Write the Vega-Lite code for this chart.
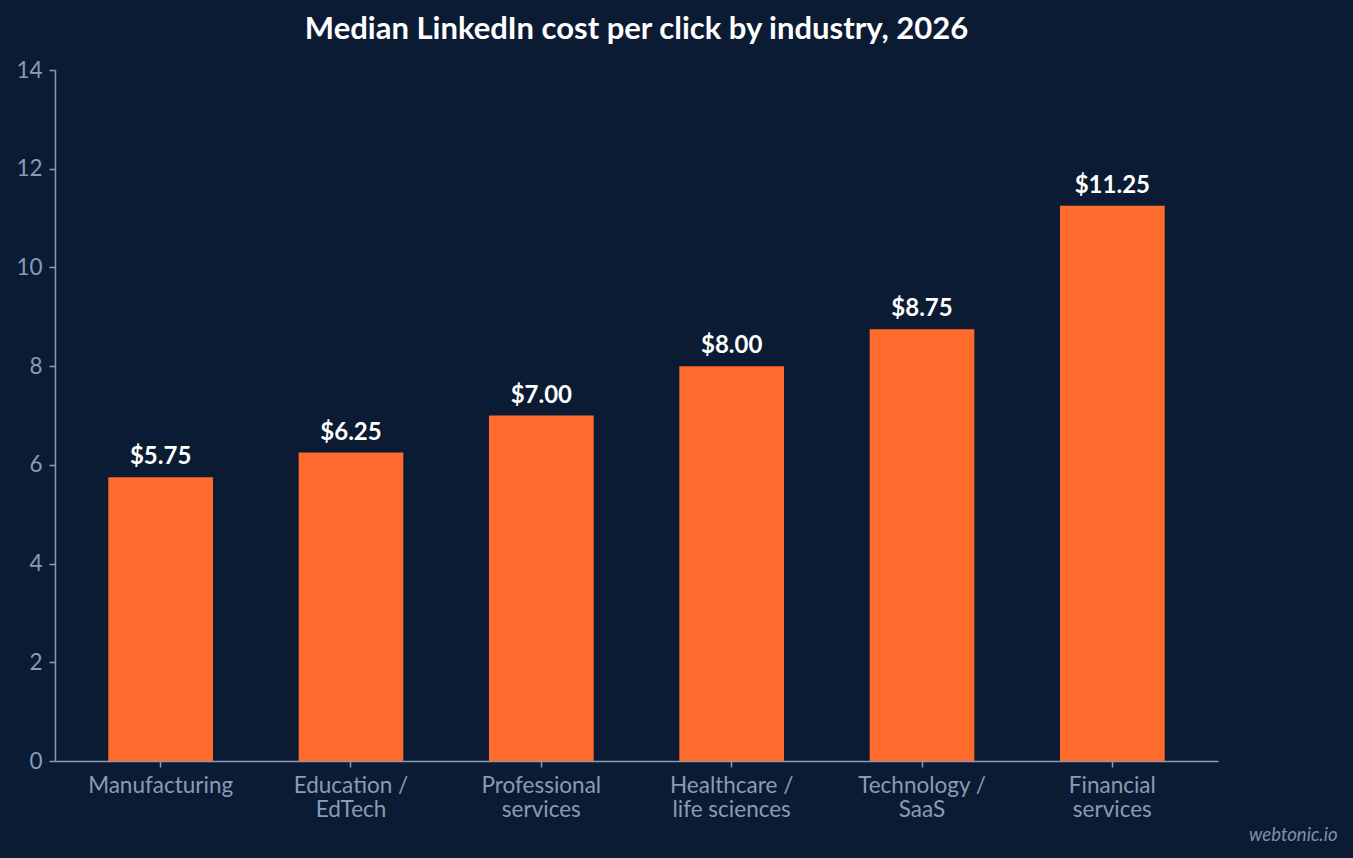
{
  "$schema": "https://vega.github.io/schema/vega-lite/v6.json",
  "autosize": {"type": "none"},
  "width": 1163,
  "height": 691,
  "padding": {"left": 55, "top": 70, "right": 135, "bottom": 97},
  "background": "#0b1b33",
  "config": {
    "view": {"stroke": null},
    "font": "Lato",
    "axis": {"grid": false, "domainColor": "#8a9bb5", "tickColor": "#8a9bb5", "labelColor": "#8a9bb5", "labelFont": "Lato", "labelFontSize": 22.5, "tickSize": 6, "domainWidth": 1.5, "tickWidth": 1.5}
  },
  "title": {"text": "Median LinkedIn cost per click by industry, 2026", "font": "Lato", "fontSize": 31, "fontWeight": "bold", "color": "#ffffff", "anchor": "middle", "offset": 13},
  "data": {"values": [
    {"industry": "Manufacturing", "cpc": 5.75},
    {"industry": "Education /|EdTech", "cpc": 6.25},
    {"industry": "Professional|services", "cpc": 7.0},
    {"industry": "Healthcare /|life sciences", "cpc": 8.0},
    {"industry": "Technology /|SaaS", "cpc": 8.75},
    {"industry": "Financial|services", "cpc": 11.25}
  ]},
  "encoding": {
    "x": {"field": "industry", "type": "nominal", "sort": null,
      "scale": {"paddingInner": 0.45, "paddingOuter": 0.28},
      "axis": {"labelAngle": 0, "labelExpr": "split(datum.label, '|')", "labelPadding": 7, "labelLineHeight": 24.5,
        "title": "webtonic.io", "titleFont": "Lato", "titleFontStyle": "italic", "titleFontWeight": "normal", "titleFontSize": 18.5, "titleColor": "#7f8fa8", "titleAnchor": "end", "titleAlign": "right", "titleX": 1282, "titleY": 79, "titleBaseline": "alphabetic"}},
    "y": {"field": "cpc", "type": "quantitative", "scale": {"domain": [0, 14]},
      "axis": {"title": null, "values": [0, 2, 4, 6, 8, 10, 12, 14], "labelPadding": 7}}
  },
  "layer": [
    {"mark": {"type": "bar", "color": "#ff6b2c"}},
    {"mark": {"type": "text", "color": "#ffffff", "fontSize": 24, "fontWeight": "bold", "font": "Lato", "baseline": "alphabetic", "dy": -13},
     "encoding": {"text": {"field": "cpc", "type": "quantitative", "format": "$.2f"}}}
  ]
}
